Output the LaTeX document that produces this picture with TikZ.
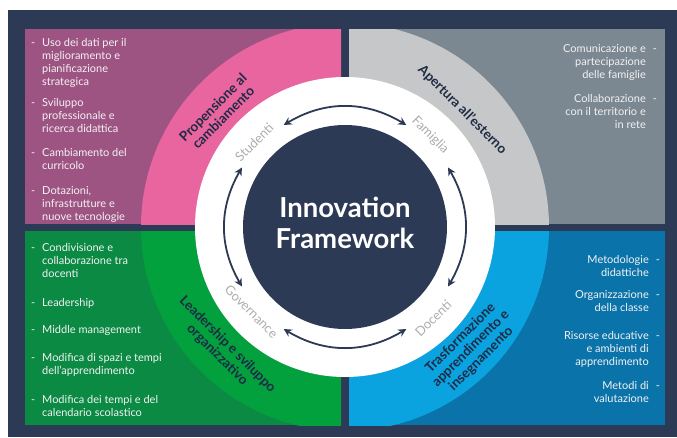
\documentclass[tikz,border=0pt]{standalone}
\usepackage{fontspec}
\setmainfont{Lato}
\usetikzlibrary{arrows.meta}
\definecolor{navy}{HTML}{2D3A55}
\definecolor{pinkpanel}{HTML}{9E5483}
\definecolor{pinkring}{HTML}{E9659F}
\definecolor{graypanel}{HTML}{7B8791}
\definecolor{grayring}{HTML}{C5C7C8}
\definecolor{greenpanel}{HTML}{0B8A44}
\definecolor{greenring}{HTML}{03A03E}
\definecolor{bluepanel}{HTML}{0A73A9}
\definecolor{bluering}{HTML}{0BA2E0}
\definecolor{labelgray}{HTML}{ADADAD}
\definecolor{bodytext}{HTML}{F2F2F2}
\definecolor{ringtext}{HTML}{1E2B45}
\begin{document}
\begin{tikzpicture}[x=1pt,y=1pt,
  itemL/.style={anchor=north west, align=left, inner sep=0pt, text=bodytext, font=\fontsize{11}{13}\selectfont},
  itemR/.style={anchor=north east, align=right, inner sep=0pt, text=bodytext, font=\fontsize{11}{13}\selectfont},
  ringlabel/.style={align=center, text=ringtext, font=\bfseries\fontsize{13.5}{14.5}\selectfont, inner sep=0pt},
  actor/.style={text=labelgray, font=\fontsize{13}{15}\selectfont, inner sep=0pt},
  cyc/.style={draw=navy, line width=1.8pt, {Stealth[length=8pt,width=8pt]}-{Stealth[length=8pt,width=8pt]}},
]
\useasboundingbox (-345,-210) rectangle (332,227);
\fill[white] (-345,-210) rectangle (332,227);
\fill[navy] (-337,-210) rectangle (332,217);
% panels with ring sectors
\begin{scope}
  \clip (-320,3) rectangle (-4,198);
  \fill[pinkpanel] (-320,3) rectangle (-4,198);
  \fill[pinkring] (0,0) circle[radius=204];
\end{scope}
\begin{scope}
  \clip (4,3) rectangle (320,198);
  \fill[graypanel] (4,3) rectangle (320,198);
  \fill[grayring] (0,0) circle[radius=204];
\end{scope}
\begin{scope}
  \clip (-320,-4) rectangle (-4,-198);
  \fill[greenpanel] (-320,-4) rectangle (-4,-198);
  \fill[greenring] (0,0) circle[radius=204];
\end{scope}
\begin{scope}
  \clip (4,-4) rectangle (320,-198);
  \fill[bluepanel] (4,-4) rectangle (320,-198);
  \fill[bluering] (0,0) circle[radius=204];
\end{scope}
\fill[white] (0,0) circle[radius=150];
\fill[navy] (0,0) circle[radius=102];
\node[font=\bfseries\fontsize{27.5}{31}\selectfont, text=white, align=center, inner sep=0pt] (title) at (0,4) {Innovation\\Framework};
% ring labels
\node[ringlabel, rotate=45] (prop) at (138:171) {Propensione al\\cambiamento};
\node[ringlabel, rotate=-45] (aper) at (45:166) {Apertura all'esterno};
\node[ringlabel, rotate=-45] (lead) at (225:173.5) {Leadership e sviluppo\\organizzativo};
\node[ringlabel, rotate=45] (trasf) at (-44:175) {Trasformazione\\apprendimento e\\insegnamento};
% actors
\node[actor, rotate=45] (stud) at (137:124) {Studenti};
\node[actor, rotate=-45] (fam) at (47:125) {Famiglia};
\node[actor, rotate=-45] (gov) at (222:126) {Governance};
\node[actor, rotate=45] (doc) at (-46:127) {Docenti};
% cycle arrows
\coordinate (t1) at (121:119); \coordinate (t2) at (59:119);
\coordinate (r1) at (30:119);  \coordinate (r2) at (-30:119);
\coordinate (b1) at (-59:119); \coordinate (b2) at (-121:119);
\coordinate (l1) at (210:119); \coordinate (l2) at (150:119);
\draw[cyc] (t1) to[bend left=31] (t2);
\draw[cyc] (r1) to[bend left=30] (r2);
\draw[cyc] (b1) to[bend left=31] (b2);
\draw[cyc] (l1) to[bend left=30] (l2);
% pink items
\node[itemL] (p1) at (-303,189) {\llap{-\hspace{7pt}}Uso dei dati per il\\miglioramento e\\pianificazione\\strategica};
\node[itemL] (p2) at (-303,129) {\llap{-\hspace{7pt}}Sviluppo\\professionale e\\ricerca didattica};
\node[itemL] (p3) at (-303,79) {\llap{-\hspace{7pt}}Cambiamento del\\curricolo};
\node[itemL] (p4) at (-303,41) {\llap{-\hspace{7pt}}Dotazioni,\\infrastrutture e\\nuove tecnologie};
% gray items
\node[itemR] (g1) at (301,183) {Comunicazione e\rlap{\hspace{7pt}-}\\partecipazione\\delle famiglie};
\node[itemR] (g2) at (301,133) {Collaborazione\rlap{\hspace{7pt}-}\\con il territorio e\\in rete};
% green items
\node[itemL] (e1) at (-303,-16) {\llap{-\hspace{7pt}}Condivisione e\\collaborazione tra\\docenti};
\node[itemL] (e2) at (-303,-71) {\llap{-\hspace{7pt}}Leadership};
\node[itemL] (e3) at (-303,-98) {\llap{-\hspace{7pt}}Middle management};
\node[itemL] (e4) at (-303,-126) {\llap{-\hspace{7pt}}Modifica di spazi e tempi\\dell'apprendimento};
\node[itemL] (e5) at (-303,-168) {\llap{-\hspace{7pt}}Modifica dei tempi e del\\calendario scolastico};
% blue items
\node[itemR] (u1) at (304,-28) {Metodologie\rlap{\hspace{7pt}-}\\didattiche};
\node[itemR] (u2) at (304,-63) {Organizzazione\rlap{\hspace{7pt}-}\\della classe};
\node[itemR] (u3) at (304,-104) {Risorse educative\rlap{\hspace{7pt}-}\\e ambienti di\\apprendimento};
\node[itemR] (u4) at (304,-154) {Metodi di\rlap{\hspace{7pt}-}\\valutazione};
\end{tikzpicture}
\end{document}
